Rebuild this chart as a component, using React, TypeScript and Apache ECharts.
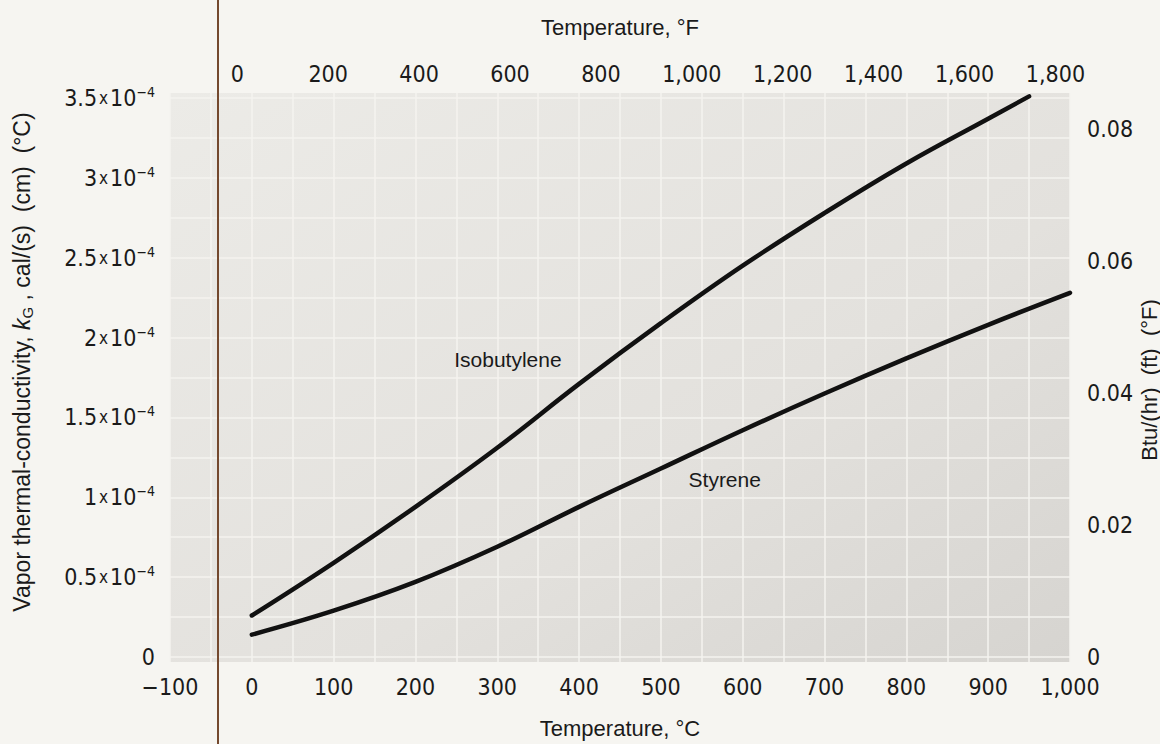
import React, { useEffect, useRef } from "react";
import * as echarts from "echarts";

// Temperature (°C) and vapor thermal conductivity (units of 1e-4 cal/(s)(cm)(°C))
const isobutyleneTemp = [0, 100, 200, 300, 400, 500, 600, 700, 800, 900, 950];
const isobutyleneK = [0.26, 0.59, 0.94, 1.31, 1.71, 2.09, 2.45, 2.78, 3.09, 3.37, 3.51];
const styreneTemp = [0, 100, 200, 300, 400, 500, 600, 700, 800, 900, 1000];
const styreneK = [0.14, 0.29, 0.47, 0.69, 0.94, 1.18, 1.42, 1.65, 1.87, 2.08, 2.28];

// axis ticks
const celsiusMin = -100;
const celsiusMax = 1000;
const fahrenheitTicks = [0, 200, 400, 600, 800, 1000, 1200, 1400, 1600, 1800];
const kTicks = [0, 0.5, 1, 1.5, 2, 2.5, 3, 3.5];
const kGridTicks = [0, 0.25, 0.5, 0.75, 1, 1.25, 1.5, 1.75, 2, 2.25, 2.5, 2.75, 3, 3.25, 3.5];
const btuTicks = [0, 0.02, 0.04, 0.06, 0.08];
const kMin = -0.03125;
const kMax = 3.53125;
const btuPerUnit = 0.02419; // 1e-4 cal/(s cm °C) in Btu/(hr ft °F)

const NARROW = "'Liberation Sans Narrow', 'DejaVu Sans Condensed', 'Liberation Sans', sans-serif";
const SANS = "'Liberation Sans', Arial, sans-serif";
const INK = "#1a1a1a";

const withComma = (v: number) =>
  Math.abs(v) >= 1000 ? String(v).replace(/(\d)(\d{3})$/, "$1,$2") : String(v);

export default function App() {
  const ref = useRef<HTMLDivElement>(null);
  useEffect(() => {
    if (!ref.current) return;
    const chart = echarts.init(ref.current, null, { renderer: "svg" });
    chart.setOption({
      animation: false,
      backgroundColor: "#f6f5f1",
      grid: {
        left: 170,
        right: 90,
        top: 93,
        bottom: 81,
        show: true,
        borderWidth: 0,
        backgroundColor: {
          type: "linear",
          x: 0,
          y: 0,
          x2: 1,
          y2: 1,
          colorStops: [
            { offset: 0, color: "#ecebe7" },
            { offset: 0.6, color: "#e3e1dd" },
            { offset: 1, color: "#d6d4d0" },
          ],
        },
      },
      xAxis: [
        {
          type: "value",
          position: "bottom",
          min: celsiusMin,
          max: celsiusMax,
          interval: 50,
          axisLine: { show: false },
          axisTick: { show: false },
          splitLine: { show: true, lineStyle: { color: "#f4f3ef", width: 1.5 } },
          axisLabel: {
            margin: 13,
            fontFamily: NARROW,
            fontSize: 23,
            color: INK,
            formatter: (v: number) =>
              v % 100 === 0 ? withComma(v).replace("-", "\u2212") : "",
          },
          name: "Temperature, °C",
          nameLocation: "middle",
          nameGap: 55,
          nameTextStyle: { fontFamily: SANS, fontSize: 22, color: INK },
        },
        {
          type: "value",
          position: "top",
          min: celsiusMin * 1.8 + 32,
          max: celsiusMax * 1.8 + 32,
          axisLine: { show: false },
          axisTick: { show: false, customValues: fahrenheitTicks },
          splitLine: { show: false },
          axisLabel: {
            margin: 8,
            customValues: fahrenheitTicks,
            fontFamily: NARROW,
            fontSize: 23,
            color: INK,
            formatter: (v: number) => withComma(v),
          },
          name: "Temperature, °F",
          nameLocation: "middle",
          nameGap: 55,
          nameTextStyle: { fontFamily: SANS, fontSize: 22, color: INK },
        },
      ],
      yAxis: [
        {
          type: "value",
          position: "left",
          min: kMin,
          max: kMax,
          axisLine: { show: false },
          axisTick: { show: false, customValues: kGridTicks },
          splitLine: { show: true, lineStyle: { color: "#f4f3ef", width: 1.5 } },
          axisLabel: {
            margin: 15,
            customValues: kTicks,
            formatter: (v: number) => {
              if (Math.abs(v) < 1e-9) return "{n|0}";
              const m = Math.round(v * 10) / 10;
              return `{n|${m}}{x|x}{n|10}{s|\u22124}`;
            },
            rich: {
              n: { fontFamily: NARROW, fontSize: 23, color: INK, lineHeight: 26 },
              x: { fontFamily: NARROW, fontSize: 17, color: INK, lineHeight: 26, padding: [0, 2, 0, 2] },
              s: { fontFamily: NARROW, fontSize: 14, color: INK, lineHeight: 14, verticalAlign: "top" },
            },
          },
        },
        {
          type: "value",
          position: "right",
          min: kMin * btuPerUnit,
          max: kMax * btuPerUnit,
          axisLine: { show: false },
          axisTick: { show: false, customValues: btuTicks },
          splitLine: { show: false },
          axisLabel: {
            margin: 17,
            customValues: btuTicks,
            fontFamily: NARROW,
            fontSize: 23,
            color: INK,
            formatter: (v: number) => (Math.abs(v) < 1e-9 ? "0" : v.toFixed(2)),
          },
        },
      ],
      series: [
        {
          name: "Isobutylene",
          type: "line",
          xAxisIndex: 0,
          yAxisIndex: 0,
          smooth: 0.4,
          showSymbol: false,
          symbol: "none",
          lineStyle: { color: "#111", width: 4.5, cap: "round" },
          data: isobutyleneTemp.map((t, i) => [t, isobutyleneK[i]]),
          markPoint: {
            symbol: "rect",
            symbolSize: 1,
            itemStyle: { color: "rgba(0,0,0,0)" },
            label: {
              show: true,
              position: "inside",
              formatter: "Isobutylene",
              fontFamily: SANS,
              fontSize: 21,
              color: INK,
            },
            data: [{ coord: [313, 1.86] }],
          },
        },
        {
          name: "Styrene",
          type: "line",
          xAxisIndex: 0,
          yAxisIndex: 0,
          smooth: 0.4,
          showSymbol: false,
          symbol: "none",
          lineStyle: { color: "#111", width: 4.5, cap: "round" },
          data: styreneTemp.map((t, i) => [t, styreneK[i]]),
          markPoint: {
            symbol: "rect",
            symbolSize: 1,
            itemStyle: { color: "rgba(0,0,0,0)" },
            label: {
              show: true,
              position: "inside",
              formatter: "Styrene",
              fontFamily: SANS,
              fontSize: 21,
              color: INK,
            },
            data: [{ coord: [578, 1.11] }],
          },
        },
      ],
      graphic: [
        {
          type: "line",
          shape: { x1: 218, y1: 0, x2: 218, y2: 744 },
          style: { stroke: "#74492e", lineWidth: 2 },
          z: 100,
        },
        {
          type: "text",
          x: 22,
          y: 362,
          rotation: Math.PI / 2,
          style: {
            text: "{a|Vapor thermal-conductivity, }{k|k}{g|G}{a| , cal/(s)  (cm)  (°C)}",
            align: "center",
            verticalAlign: "middle",
            rich: {
              a: { fontFamily: SANS, fontSize: 23, fill: INK, lineHeight: 26 },
              k: { fontFamily: SANS, fontSize: 23, fontStyle: "italic", fill: INK, lineHeight: 26 },
              g: { fontFamily: SANS, fontSize: 15, fill: INK, lineHeight: 20, verticalAlign: "bottom" },
            },
          },
        },
        {
          type: "text",
          x: 1149,
          y: 380,
          rotation: Math.PI / 2,
          style: {
            text: "Btu/(hr)  (ft)  (°F)",
            align: "center",
            verticalAlign: "middle",
            fontFamily: SANS,
            fontSize: 22,
            fill: INK,
          },
        },
      ],
    });
    return () => chart.dispose();
  }, []);
  return (
    <div
      ref={ref}
      style={{ position: "absolute", left: 0, top: 0, width: 1160, height: 744 }}
    />
  );
}
